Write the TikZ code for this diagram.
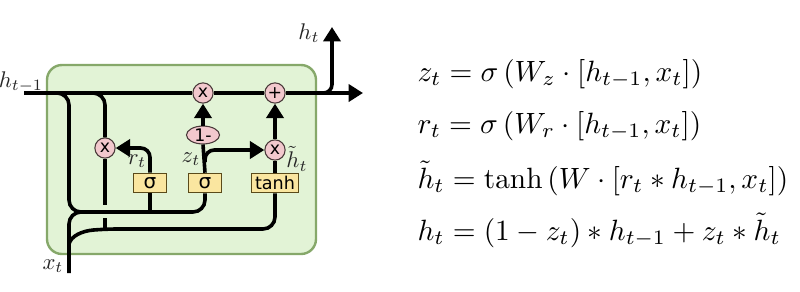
\documentclass[tikz,border=0pt]{standalone}
\usepackage{fontspec}
\newfontfamily\gatefont{DejaVu Sans}
\usetikzlibrary{arrows.meta,shapes.geometric}
\definecolor{cellfill}{HTML}{E2F3D6}
\definecolor{celledge}{HTML}{86A86A}
\definecolor{opfill}{HTML}{F2C8CD}
\definecolor{opedge}{HTML}{4A3A3A}
\definecolor{gatefill}{HTML}{FAE6A0}
\definecolor{gateedge}{HTML}{5A4A1A}
\newcommand{\eqsc}[1]{\scalebox{1.10}{#1}}
\newcommand{\lbsc}[1]{\scalebox{0.85}{#1}}
\tikzset{
  wire/.style={line width=1.35pt, black},
  arr/.style={wire, -{Triangle[width=6.4pt,length=5.4pt]}},
  opnode/.style={circle, draw=opedge, fill=opfill, line width=0.4pt, minimum size=7.6pt, inner sep=0pt, font=\gatefont\fontsize{6.5}{7}\selectfont},
  onem/.style={ellipse, draw=opedge, fill=opfill, line width=0.4pt, minimum width=12.4pt, minimum height=6.2pt, inner sep=0pt, font=\gatefont\fontsize{6.5}{7}\selectfont},
  gatebox/.style={rectangle, draw=gateedge, fill=gatefill, line width=0.4pt, minimum width=12.4pt, minimum height=7.3pt, inner sep=0pt, font=\gatefont\fontsize{7.5}{8}\selectfont},
  lbl/.style={inner sep=0pt, text=black!85},
  eq/.style={inner sep=0pt, anchor=base west}
}
\begin{document}
\begin{tikzpicture}[x=0.375pt,y=-0.375pt]
\useasboundingbox (0,0) rectangle (800,291);
% cell background
\draw[fill=cellfill, draw=celledge, line width=0.9pt, rounded corners=5.6pt] (47,65) rectangle (316,254);

% operation nodes
\node[opnode] (m1) at (203,93) {x};
\node[opnode] (pl) at (275,93) {+};
\node[onem] (om) at (203,135) {1-};
\node[opnode] (mr) at (105,148) {x};
\node[opnode] (mh) at (275,150) {x};
\node[gatebox] (sr) at (150,183) {σ};
\node[gatebox] (sz) at (205,183) {σ};
\node[gatebox, minimum width=17.3pt, font=\gatefont\fontsize{6.6}{7}\selectfont] (th) at (275,183) {tanh};

% coordinates
\coordinate (hin) at (24,93);
\coordinate (hout) at (363,93);
\coordinate (htop) at (332,27);
\coordinate (hsplit) at (316,93);
\coordinate (b1) at (50,93);
\coordinate (b2) at (88,93);
\coordinate (bus1) at (150,212);
\coordinate (xin) at (69,273);
\coordinate (xj) at (95,212);
\coordinate (xb) at (69,244);
\coordinate (bus2) at (105,229);
\coordinate (gapT) at (105,205);
\coordinate (gapB) at (105,218);
\coordinate (zsplit) at (205,162);

% main line
\draw[wire] (hin) -- (m1);
\draw[wire] (m1) -- (pl);
\draw[arr] (pl) -- (hout);
\draw[arr, rounded corners=3.2pt] (hsplit) -| (htop);

% h_{t-1} branches
\draw[wire, rounded corners=4.5pt] (b1) -| (69,212) -| (sz.south);
\draw[wire, rounded corners=4.5pt] (b2) -| (mr.north);
\draw[wire] (sr.south) -- (bus1);
\draw[wire] (mr.south) -- (gapT);
\draw[wire] (gapB) -- (bus2);

% x_t
\draw[wire, rounded corners=4.5pt] (xin) |- (xj);
\draw[wire, rounded corners=4.5pt] (xb) .. controls (71,236) and (82,231) .. (bus2) -| (th.south);

% gates
\draw[arr, rounded corners=3.5pt] (sr.north) |- (mr.east);
\draw[wire] (sz.north) -- (om.south);
\draw[arr] (om.north) -- (m1.south);
\draw[arr, rounded corners=3.5pt] (zsplit) |- (mh.west);
\draw[wire] (th.north) -- (mh.south);
\draw[arr] (mh.north) -- (pl.south);

% labels
\node[lbl] (lhin) at (21,82) {\lbsc{$h_{t-1}$}};
\node[lbl] (lhout) at (309,33) {\lbsc{$h_t$}};
\node[lbl] (lxt) at (53,266) {\lbsc{$x_t$}};
\node[lbl] (lrt) at (137,161) {\lbsc{$r_t$}};
\node[lbl] (lzt) at (191,159) {\lbsc{$z_t$}};
\node[lbl] (lht) at (297,159) {\lbsc{$\tilde{h}_t$}};

% equations
\node[eq] (e1) at (417,81) {\eqsc{$z_t = \sigma\left(W_z\cdot[h_{t-1},x_t]\right)$}};
\node[eq] (e2) at (417,133) {\eqsc{$r_t = \sigma\left(W_r\cdot[h_{t-1},x_t]\right)$}};
\node[eq] (e3) at (417,188) {\eqsc{$\tilde{h}_t = \tanh\left(W\cdot[r_t * h_{t-1},x_t]\right)$}};
\node[eq] (e4) at (417,240) {\eqsc{$h_t = (1-z_t) * h_{t-1} + z_t * \tilde{h}_t$}};
\end{tikzpicture}
\end{document}
